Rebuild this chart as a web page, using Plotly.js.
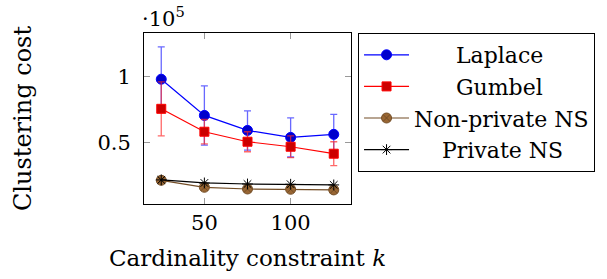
<!DOCTYPE html>
<html>
<head>
<meta charset="utf-8">
<script src="https://cdn.plot.ly/plotly-3.0.1.min.js"></script>
<style>html,body{margin:0;padding:0;background:#fff;}#chart{width:607px;height:279px;}</style>
</head>
<body>
<div id="chart"></div>
<script>
// Data
const kValues = [25, 50, 75, 100, 125];
const laplaceCost = [98000, 70500, 59100, 53800, 56100];
const laplaceErr = [24500, 22500, 14900, 14900, 15200];
const gumbelCost = [75500, 58100, 50500, 46700, 41400];
const gumbelErr = [20500, 9300, 7600, 8300, 9100];
const nonPrivateNSCost = [21200, 15900, 14600, 14400, 13900];
const privateNSCost = [21500, 19200, 18400, 18200, 17700];
const seriesNames = ["Laplace", "Gumbel", "Non-private NS", "Private NS"];
const yTickVals = [50000, 100000];
const yTickText = ["0.5", "1"];
const xTickVals = [50, 100];

const pad = (s, n) => "\u00A0".repeat(n) + s;

const traces = [
  {
    x: kValues, y: laplaceCost, name: pad(seriesNames[0], 6), type: "scatter", mode: "lines+markers",
    line: {color: "#0000FF", width: 1.2},
    marker: {symbol: "circle", size: 10, color: "#0000CC", line: {color: "#0000FF", width: 1}},
    error_y: {type: "data", array: laplaceErr, visible: true, color: "rgba(40,40,255,0.7)", thickness: 1.3, width: 3.5}
  },
  {
    x: kValues, y: gumbelCost, name: pad(seriesNames[1], 6), type: "scatter", mode: "lines+markers",
    line: {color: "#FF0000", width: 1.2},
    marker: {symbol: "square", size: 9, color: "#CC0000", line: {color: "#FF0000", width: 1}},
    error_y: {type: "data", array: gumbelErr, visible: true, color: "rgba(255,40,40,0.7)", thickness: 1.3, width: 3.5}
  },
  {
    x: kValues, y: nonPrivateNSCost, name: seriesNames[2], type: "scatter", mode: "lines+markers",
    line: {color: "#734D26", width: 1.2},
    marker: {symbol: "circle-x", size: 10, color: "#996633", line: {color: "#734D26", width: 1}}
  },
  {
    x: kValues, y: privateNSCost, name: pad(seriesNames[3], 4), type: "scatter", mode: "lines+markers",
    line: {color: "#000000", width: 1.2},
    marker: {symbol: "asterisk-open", size: 9, color: "#000000", line: {color: "#000000", width: 1}}
  }
];

const FAM = "DejaVu Serif, serif";
const f = (size) => ({family: FAM, size: size, color: "#000"});

const layout = {
  width: 607, height: 279,
  margin: {l: 144, r: 256, t: 33, b: 75},
  paper_bgcolor: "#fff", plot_bgcolor: "#fff",
  font: f(21),
  showlegend: true,
  legend: {
    x: 1.034, xanchor: "left", y: 1, yanchor: "top",
    bordercolor: "#000", borderwidth: 1, bgcolor: "#fff",
    font: f(22),
    itemwidth: 45, tracegroupgap: 0
  },
  xaxis: {
    range: [15, 135], tickvals: xTickVals, ticks: "inside", ticklen: 6, tickcolor: "#999",
    tickwidth: 1, showgrid: false, zeroline: false, showline: true, linecolor: "#000", linewidth: 1,
    mirror: "ticks", tickfont: f(21),
    title: {text: "Cardinality constraint <i>k</i>", font: f(23), standoff: 15}
  },
  yaxis: {
    range: [3200, 133100], tickvals: yTickVals, ticktext: yTickText, ticks: "inside", ticklen: 6,
    tickcolor: "#999", tickwidth: 1, showgrid: false, zeroline: false, showline: true,
    linecolor: "#000", linewidth: 1, mirror: "ticks", ticklabelstandoff: 8,
    tickfont: f(21),
    title: {text: "Clustering cost", font: f(24), standoff: 58}
  },
  annotations: [{
    xref: "paper", yref: "paper", x: -0.02, y: 1.0, xanchor: "left", yanchor: "bottom",
    text: "·10<sup>5</sup>", showarrow: false, font: f(21)
  }]
};

Plotly.newPlot("chart", traces, layout, {displayModeBar: false, staticPlot: true});
</script>
</body>
</html>
